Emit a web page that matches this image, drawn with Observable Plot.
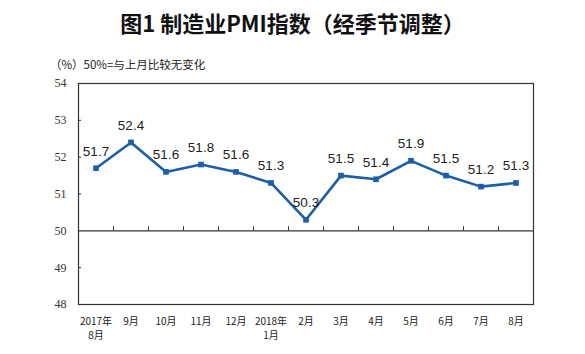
<!DOCTYPE html>
<html>
<head>
<meta charset="utf-8">
<script src="https://cdn.jsdelivr.net/npm/d3@7"></script>
<script src="https://cdn.jsdelivr.net/npm/@observablehq/plot@0.6"></script>
<style>
  html, body { margin: 0; padding: 0; background: #fff; }
  #wrap { position: relative; width: 585px; height: 354px; overflow: hidden; }
  #title { position: absolute; left: 0; width: 585px; top: 8px; text-align: center;
    font-family: "Noto Sans CJK SC", sans-serif; font-weight: bold; font-size: 22px; line-height: 29px; color: #111; }
  #subtitle { position: absolute; left: 50px; top: 56px;
    font-family: "Noto Sans CJK SC", sans-serif; font-size: 11.5px; line-height: 16px; color: #222; }
  #chart { position: absolute; left: 0; top: 0; }
</style>
</head>
<body>
<div id="wrap">
  <div id="chart"></div>
  <div id="title">图1 制造业PMI指数（经季节调整）</div>
  <div id="subtitle">（%）50%=与上月比较无变化</div>
</div>
<script>
const months = ["2017年\n8月", "9月", "10月", "11月", "12月", "2018年\n1月", "2月", "3月", "4月", "5月", "6月", "7月", "8月"];
const pmi = [51.7, 52.4, 51.6, 51.8, 51.6, 51.3, 50.3, 51.5, 51.4, 51.9, 51.5, 51.2, 51.3];
const yTicks = [48, 49, 50, 51, 52, 53, 54];
const baseline = 50;

const data = pmi.map((v, i) => ({i, v, label: v.toFixed(1)}));
const idx = d3.range(months.length);
const boundaries = idx.slice(1).map(i => i - 0.5);
const blue = "#1d5ea8";

const chart = Plot.plot({
  width: 585,
  height: 354,
  marginTop: 83,
  marginBottom: 50,
  marginLeft: 78,
  marginRight: 52,
  style: {fontFamily: "Liberation Sans, Arial, sans-serif", background: "transparent"},
  x: {type: "linear", domain: [-0.5, months.length - 0.5]},
  y: {domain: [48, 54]},
  marks: [
    Plot.frame({stroke: "#333", strokeWidth: 1.2}),
    Plot.ruleY([baseline], {stroke: "#333", strokeWidth: 1.2}),
    Plot.ruleX(boundaries, {x: d => d, y1: baseline, y2: baseline + 0.11, stroke: "#333"}),
    Plot.axisY({ticks: yTicks, tickFormat: "d", tickSize: 0, tickPadding: 12, label: null, fontSize: 12, fill: "#333", fontFamily: "Liberation Serif, serif"}),
    Plot.axisY({ticks: yTicks.filter(t => t !== 48 && t !== 54 && t !== baseline), tickSize: 3, dx: 3, text: null, label: null, stroke: "#333"}),
    Plot.axisX({ticks: idx, tickFormat: i => months[i], tickSize: 0, tickPadding: 10, label: null, fontSize: 10, lineHeight: 1.45, fill: "#222", fontFamily: "Noto Sans CJK SC, sans-serif"}),
    Plot.line(data, {x: "i", y: "v", stroke: blue, strokeWidth: 2.6}),
    Plot.dot(data, {x: "i", y: "v", symbol: "square", r: 3.2, fill: blue, stroke: "none"}),
    Plot.text(data, {x: "i", y: "v", text: "label", dy: -17, fontSize: 13.5, fill: "#222"})
  ]
});
document.getElementById("chart").appendChild(chart);
</script>
</body>
</html>
